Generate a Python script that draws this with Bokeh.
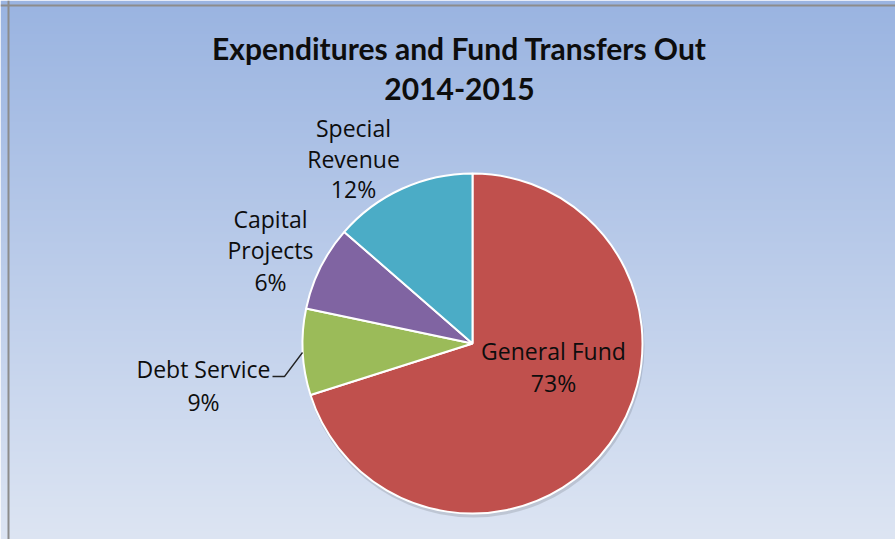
import numpy as np
from bokeh.plotting import figure
from bokeh.models import Range1d, Span, ColumnDataSource
from bokeh.core.properties import value
from bokeh.embed import file_html
from bokeh.resources import INLINE

# ---- data ----
categories = ["General Fund", "Debt Service", "Capital Projects", "Special Revenue"]
shares = [70.1, 8.2, 8.1, 13.6]          # slice sizes as drawn
pct_labels = ["73%", "9%", "6%", "12%"]  # percentages printed on the chart
colors = ["#C0504D", "#9BBB59", "#8064A2", "#4BACC6"]

title_lines = ["Expenditures and Fund Transfers Out", "2014-2015"]

# ---- layout ----
W, H = 895, 539
cx, cy, R = 472, -343, 170     # page pixel coords, y negated

p = figure(width=W, height=H, output_backend="svg", toolbar_location=None,
           x_range=Range1d(0, W), y_range=Range1d(-H, 0),
           x_axis_location=None, y_axis_location=None, min_border=0)
p.grid.visible = False
p.outline_line_color = None
p.background_fill_color = None
p.border_fill_color = "#DCE3F2"

# background gradient
top = np.array([154, 180, 225])
bot = np.array([221, 229, 243])
n = H
t = np.linspace(0, 1, n)  # row 0 = bottom -> t=0 bottom colour
cols = (bot[None, :] * (1 - t[:, None]) + top[None, :] * t[:, None]).astype(np.uint32)
img = np.empty((n, 1), dtype=np.uint32)
view = img.view(dtype=np.uint8).reshape((n, 1, 4))
view[:, 0, 0] = cols[:, 0]
view[:, 0, 1] = cols[:, 1]
view[:, 0, 2] = cols[:, 2]
view[:, 0, 3] = 255
p.image_rgba(image=[img], x=0, y=-H, dw=W, dh=H)

# frame lines (left and top)
p.add_layout(Span(location=8, dimension="height", line_color="#8C8C8C", line_width=2))
p.add_layout(Span(location=-5, dimension="width", line_color="#8C8C8C", line_width=2))

# shadow
p.circle(x=[cx + 1], y=[cy - 3], radius=R + 1, fill_color="black", fill_alpha=0.12, line_color=None)

# pie wedges, clockwise from 12 o'clock
vals = np.array(shares, dtype=float)
frac = vals / vals.sum()
ends_cum = np.cumsum(frac)
starts_cum = ends_cum - frac
start_angle = np.pi / 2 - 2 * np.pi * starts_cum
end_angle = np.pi / 2 - 2 * np.pi * ends_cum
src = ColumnDataSource(dict(start=start_angle, end=end_angle, color=colors))
p.wedge(x=cx, y=cy, radius=R, start_angle="start", end_angle="end", direction="clock",
        fill_color="color", line_color="white", line_width=2, source=src)

# title
p.text(x=[459, 459], y=[-47, -88], text=title_lines, text_align="center", text_baseline="middle",
       text_font=value("Lato"), text_font_style="bold", text_font_size="30px",
       text_color="#0D0D0D")

# slice labels (layout positions per label)
label_font = value("Open Sans")
label_pos = {
    "General Fund": (553, -350, -382, ["General Fund"]),
    "Debt Service": (203, -368, -401, ["Debt Service"]),
    "Capital Projects": (270, -218, -281, ["Capital", "Projects"]),
    "Special Revenue": (353, -127, -188, ["Special", "Revenue"]),
}
xs, ys, ts = [], [], []
for cat, pct in zip(categories, pct_labels):
    lx, ly_first, ly_pct, lines = label_pos[cat]
    step = 31
    for i, ln in enumerate(lines):
        xs.append(lx); ys.append(ly_first - i * step); ts.append(ln)
    xs.append(lx); ys.append(ly_pct); ts.append(pct)
p.text(x=xs, y=ys, text=ts, text_align="center", text_baseline="middle",
       text_font=label_font, text_font_size="23px", text_color="#0D0D0D")

# leader line for Debt Service
p.line(x=[272, 284, 302], y=[-376, -376, -352], line_color="#222222", line_width=1.3)

with open("out.html", "w") as f:
    f.write(file_html(p, INLINE))
